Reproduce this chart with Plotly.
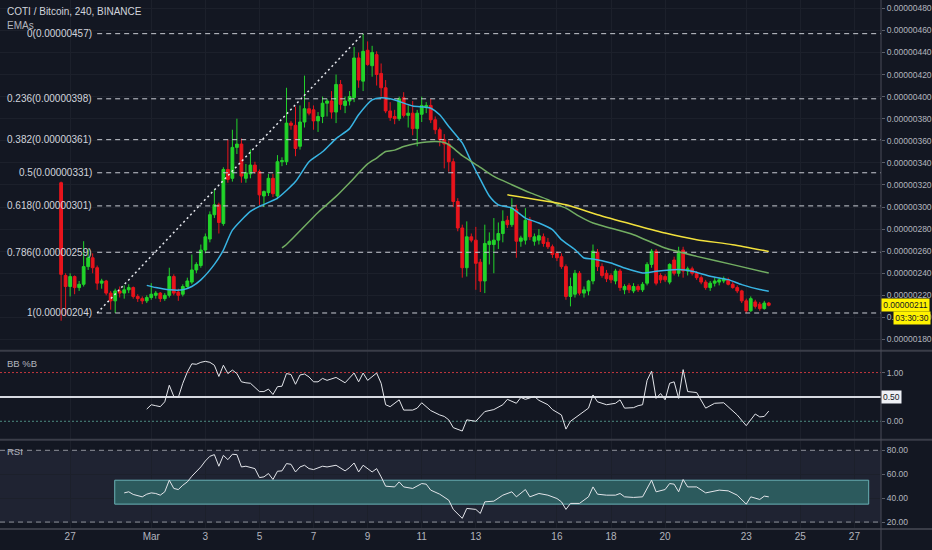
import plotly.graph_objects as go
from datetime import datetime, timedelta

# ---------------- data (prices in satoshi) ----------------
START = datetime(2020, 2, 26, 16)   # first 4h candle
OPEN = [322,238,228,237,227,230,246,254,245,231,233,222,215,224,222,225,227,219,217,215,
        218,220,222,217,220,237,223,221,228,232,243,247,261,271,293,302,285,334,326,354,
        357,326,330,338,332,310,313,326,310,341,341,376,374,355,377,389,388,378,382,394,
        396,386,411,392,396,399,435,414,442,428,438,421,408,387,382,380,399,383,385,371,
        384,390,392,379,370,361,357,341,305,281,245,273,270,250,233,266,266,270,276,288,
        284,298,269,270,288,269,270,273,268,264,258,255,246,219,221,240,222,224,233,259,
        246,240,238,233,242,225,229,224,228,225,231,248,260,238,237,232,252,240,261,242,
        244,240,236,232,227,231,232,233,234,230,227,224,215,206,214,212,208,213]
HIGH = [323,240,240,238,233,269,262,258,247,235,234,224,226,228,229,230,228,221,219,220,
        231,224,223,222,245,239,226,230,236,257,250,266,276,296,316,304,336,361,370,380,
        362,339,352,341,334,315,330,330,347,345,408,378,391,392,419,395,392,386,400,398,
        405,420,415,400,405,445,440,457,450,446,441,430,415,395,388,400,404,392,396,388,
        400,395,398,382,372,366,360,344,308,284,287,276,282,253,284,277,290,286,297,292,
        308,302,274,299,291,276,280,276,272,266,260,258,248,236,243,242,228,234,266,262,
        249,243,240,244,244,230,231,231,230,232,250,262,262,240,239,249,255,264,264,246,
        246,242,238,234,233,236,236,237,236,232,229,225,217,219,216,214,215,214]
LOW = [197,201,219,221,224,228,243,240,225,226,220,207,204,218,217,222,217,214,212,213,
       216,217,214,215,218,220,215,219,226,230,240,245,258,268,290,276,283,322,323,348,
       322,322,326,330,302,300,310,309,307,337,338,370,346,352,372,383,370,368,376,382,
       380,376,388,385,392,395,408,405,428,418,410,400,385,378,375,378,381,372,365,355,
       377,385,376,366,355,335,332,300,278,236,237,268,225,223,222,248,240,262,268,281,
       282,254,264,266,270,265,266,264,262,254,251,244,216,210,218,220,218,220,230,242,
       236,232,231,230,224,221,222,222,223,223,229,245,229,231,232,230,238,237,236,238,
       238,234,230,225,224,228,229,231,229,226,222,213,204,205,208,206,207,210]
CLOSE = [239,228,237,227,230,246,254,245,231,233,222,215,224,222,225,227,219,217,215,218,
         221,222,217,220,237,222,220,228,233,243,248,261,273,293,302,286,334,325,354,357,
         328,331,338,332,311,314,326,312,341,342,376,374,353,377,389,385,378,382,394,396,
         386,411,393,396,400,435,415,441,429,440,420,408,387,381,380,398,383,385,371,385,
         392,392,379,370,361,357,341,305,281,245,273,270,249,233,267,269,270,276,287,284,
         299,269,272,288,273,273,274,267,264,257,254,246,219,228,240,222,225,233,260,246,
         238,235,234,242,227,228,225,228,225,230,248,260,231,234,234,248,240,260,242,244,
         240,236,232,227,231,233,234,235,230,227,224,215,206,217,210,208,213,211]

EMA_FAST_I = [19,21,24,27,29,31,34,36,38,42,44,48,52,55,58,61,64,66,69,71,73,75,78,82,84,86,
              89,91,93,95,97,100,103,106,109,111,114,116,118,122,125,129,132,137,140,144,148,
              151,155,157]
EMA_FAST_V = [229,227,225,225,228,234,248,261,279,296,300.6,308,323,341,350,362,371,383.5,397,
              399,398,395.6,391.5,389.5,383.5,373,358,341,325,310,302,299,290,285.5,279.5,
              270.4,261.4,253.8,253,249.3,244.8,240.3,241.8,243.3,241.8,237.3,234.2,229.7,
              225.2,223.7]
EMA_MID_I = [49,50,57,61,64,68,70,72,74,76,79,83,85,86,87,89,93,96,100,104,108,111,112,115,118,
             127,134,141,149,157]
EMA_MID_V = [263,266,295,309.6,322,339,344.3,350.3,351.5,354.8,357.8,359.4,358.4,356.4,353.3,
             346.5,336,327.7,320.2,313,306.6,300.6,299,291.5,285.5,274.9,262.8,255.3,247.8,240.2]
EMA_SLOW_I = [99,112,119,127,134,141,149,157]
EMA_SLOW_V = [311,302,293,284,276.4,270.4,265.9,259.8]

BB_I = [19,20,21,22,23,24,25,26,27,28,29,30,31,32,33,34,35,36,37,38,39,40,41,42,44,45,46,47,48,
        49,50,51,52,53,54,55,56,57,58,59,61,63,65,66,67,68,70,71,72,73,75,76,78,79,80,82,84,85,
        86,87,89,90,92,94,96,98,99,101,102,103,105,106,108,109,111,112,113,115,117,118,119,121,
        123,124,125,127,128,129,130,131,132,133,134,135,136,137,138,139,141,143,145,147,149,150,
        152,154,155,156,157]
BB_V = [0.25,0.34,0.32,0.30,0.40,0.74,0.51,0.49,0.78,1.01,1.18,1.17,1.21,1.23,1.21,1.15,0.92,
        1.15,0.98,1.05,0.98,0.81,0.79,0.78,0.61,0.61,0.66,0.55,0.71,0.72,0.98,0.96,0.76,0.95,
        0.97,0.91,0.81,0.81,0.88,0.84,0.90,0.79,0.99,0.81,0.99,0.84,0.99,0.78,0.34,0.30,0.44,
        0.23,0.23,0.27,0.38,0.22,0.13,0.10,0.03,-0.13,-0.20,0.03,0.00,0.20,0.24,0.34,0.45,0.37,
        0.49,0.45,0.51,0.43,0.34,0.24,0.13,-0.16,0.00,0.13,0.27,0.54,0.40,0.34,0.37,0.44,0.27,
        0.28,0.32,0.34,0.84,1.03,0.47,0.57,0.44,0.78,0.81,0.47,1.06,0.61,0.59,0.27,0.37,0.38,
        0.20,0.13,-0.09,0.15,0.09,0.10,0.21]

RSI_I = [14,15,16,18,19,20,21,22,23,24,25,26,27,28,29,30,31,32,33,34,35,36,37,38,39,40,41,43,44,
         45,46,47,48,49,50,51,52,53,54,55,56,58,59,61,63,64,65,66,67,69,70,71,72,74,75,76,78,80,
         81,82,84,86,87,89,90,92,93,94,96,98,100,101,103,104,106,108,110,111,112,113,115,117,118,
         119,121,123,124,125,127,129,131,132,134,135,136,137,138,139,141,143,146,148,150,152,153,
         155,156,157]
RSI_V = [44.4,45.3,43.1,41.1,43.3,44.4,43.9,42.5,45.3,55.0,48.1,47.2,50.8,53.6,58.3,61.9,66.1,
         71.1,75.0,76.4,66.7,75.8,72.2,76.7,76.4,66.1,66.7,64.7,57.2,57.8,60.6,55.6,62.5,62.8,
         68.9,68.3,61.9,66.1,67.5,64.7,63.9,66.7,66.1,67.5,62.8,65.6,69.4,61.9,67.5,61.9,64.7,
         57.8,50.0,49.4,53.6,49.4,48.1,52.2,51.7,46.7,43.3,38.3,30.6,23.1,31.4,30.6,27.2,36.9,
         37.5,42.5,45.3,41.1,47.2,41.1,43.9,42.5,39.7,36.9,30.6,35.6,35.6,41.1,49.4,43.3,42.5,
         42.5,43.9,41.1,40.6,41.1,55.0,45.3,47.2,52.2,51.7,45.3,55.6,49.4,49.4,44.4,46.7,46.1,
         42.5,35.0,41.1,38.9,41.7,41.1]

FIB_RATIOS = ["0", "0.236", "0.382", "0.5", "0.618", "0.786", "1"]
FIB_PRICES = [457, 398, 361, 331, 301, 259, 204]
FIB_START_I, FIB_END_I = 8, 67

PRICE_TICKS = list(range(180, 481, 20))
DATE_TICKS = ["2020-02-27", "2020-03-01", "2020-03-03", "2020-03-05", "2020-03-07", "2020-03-09",
              "2020-03-11", "2020-03-13", "2020-03-16", "2020-03-18", "2020-03-20", "2020-03-23",
              "2020-03-25", "2020-03-27"]
DATE_LABELS = ["27", "Mar", "3", "5", "7", "9", "11", "13", "16", "18", "20", "23", "25", "27"]
LAST_PRICE = 211

# ---------------- helpers ----------------
def t(i):
    return START + timedelta(hours=4 * i)

times = [t(i) for i in range(len(CLOSE))]
X_RANGE = ["2020-02-24 09:46", "2020-03-27 23:35"]

BG = "#131722"
GRID = "#1c202b"
TXT = "#b2b5be"
FONT = "Liberation Sans Narrow, Liberation Sans, Arial, sans-serif"
GREEN = "#22d32a"
RED = "#e8141c"

fig = go.Figure()

# fib dashed lines (drawing)
for p in FIB_PRICES:
    fig.add_trace(go.Scatter(x=[t(FIB_START_I), X_RANGE[1]], y=[p, p], mode="lines",
                             line=dict(color="#c9ccd4", width=1, dash="5px,4px"),
                             hoverinfo="skip", showlegend=False, xaxis="x", yaxis="y"))
# fib trend line (dotted)
fig.add_trace(go.Scatter(x=[t(FIB_START_I), t(FIB_END_I)], y=[FIB_PRICES[-1], FIB_PRICES[0]],
                         mode="lines", line=dict(color="#e6e8ee", width=1.5, dash="2px,3px"),
                         hoverinfo="skip", showlegend=False, xaxis="x", yaxis="y"))

fig.add_trace(go.Candlestick(
    x=times, open=OPEN, high=HIGH, low=LOW, close=CLOSE,
    increasing=dict(line=dict(color=GREEN, width=1), fillcolor=GREEN),
    decreasing=dict(line=dict(color=RED, width=1), fillcolor=RED),
    whiskerwidth=0, showlegend=False, xaxis="x", yaxis="y", hoverinfo="skip"))

for idx, vals, col in [(EMA_FAST_I, EMA_FAST_V, "#38b4e3"),
                       (EMA_MID_I, EMA_MID_V, "#72ad62"),
                       (EMA_SLOW_I, EMA_SLOW_V, "#f2e13c")]:
    fig.add_trace(go.Scatter(x=[t(i) for i in idx], y=vals, mode="lines",
                             line=dict(color=col, width=1.5, shape="spline", smoothing=0.6),
                             hoverinfo="skip", showlegend=False, xaxis="x", yaxis="y"))

# BB %B panel
fig.add_trace(go.Scatter(x=[X_RANGE[0], X_RANGE[1]], y=[1, 1], mode="lines",
                         line=dict(color="#c4373d", width=1, dash="2px,2px"),
                         hoverinfo="skip", showlegend=False, xaxis="x", yaxis="y2"))
fig.add_trace(go.Scatter(x=[X_RANGE[0], X_RANGE[1]], y=[0, 0], mode="lines",
                         line=dict(color="#4d8a80", width=1, dash="2px,2px"),
                         hoverinfo="skip", showlegend=False, xaxis="x", yaxis="y2"))
fig.add_trace(go.Scatter(x=[t(-16), X_RANGE[1]], y=[0.5, 0.5], mode="lines",
                         line=dict(color="#d6d9e0", width=2),
                         hoverinfo="skip", showlegend=False, xaxis="x", yaxis="y2"))
fig.add_trace(go.Scatter(x=[t(i) for i in BB_I], y=BB_V, mode="lines",
                         line=dict(color="#e3e5ea", width=1),
                         hoverinfo="skip", showlegend=False, xaxis="x", yaxis="y2"))

# RSI panel
for lvl in (80, 20):
    fig.add_trace(go.Scatter(x=[X_RANGE[0], X_RANGE[1]], y=[lvl, lvl], mode="lines",
                             line=dict(color="#8f929b", width=1, dash="5px,4px"),
                             hoverinfo="skip", showlegend=False, xaxis="x", yaxis="y3"))
fig.add_trace(go.Scatter(x=[t(i) for i in RSI_I], y=RSI_V, mode="lines",
                         line=dict(color="#e3e5ea", width=1),
                         hoverinfo="skip", showlegend=False, xaxis="x", yaxis="y3"))

shapes = [
    # RSI band
    dict(type="rect", xref="paper", x0=0, x1=1, yref="y3", y0=20, y1=80,
         fillcolor="rgba(120,123,170,0.12)", line=dict(width=0), layer="between"),
    # teal box
    dict(type="rect", xref="x", x0="2020-02-28 15:35", x1="2020-03-27 12:40", yref="y3", y0=35, y1=55,
         fillcolor="#2c5a5d", line=dict(color="#69b2b6", width=1), layer="between"),
    # panel separators
    dict(type="line", xref="paper", yref="paper", x0=0, x1=1.06, y0=0.337, y1=0.337,
         line=dict(color="#3a3d48", width=2)),
    dict(type="line", xref="paper", yref="paper", x0=0, x1=1.06, y0=0.1685, y1=0.1685,
         line=dict(color="#3a3d48", width=2)),
    dict(type="line", xref="paper", yref="paper", x0=0, x1=1.06, y0=0.0, y1=0.0,
         line=dict(color="#3a3d48", width=2)),
    # right price-axis line
    dict(type="line", xref="paper", yref="paper", x0=1, x1=1, y0=-0.05, y1=1,
         line=dict(color="#4a4d58", width=1)),
]

annotations = [
    dict(text="COTI / Bitcoin, 240, BINANCE", xref="paper", yref="paper", x=0.006, y=0.978,
         xanchor="left", yanchor="middle", showarrow=False,
         font=dict(family=FONT, size=10, color="#d1d4dc")),
    dict(text="EMAs", xref="paper", yref="paper", x=0.006, y=0.952,
         xanchor="left", yanchor="middle", showarrow=False,
         font=dict(family=FONT, size=10, color=TXT)),
    dict(text="BB %B", xref="paper", yref="paper", x=0.006, y=0.312,
         xanchor="left", yanchor="middle", showarrow=False,
         font=dict(family=FONT, size=9.5, color=TXT)),
    dict(text="RSI", xref="paper", yref="paper", x=0.006, y=0.146,
         xanchor="left", yanchor="middle", showarrow=False,
         font=dict(family=FONT, size=9.5, color=TXT)),
    dict(text="0.00000211", xref="paper", yref="y", x=1.0, y=LAST_PRICE, xanchor="left",
         yanchor="middle", showarrow=False, bgcolor="#fff200", borderpad=1, width=45,
         font=dict(family=FONT, size=8.5, color="#131722")),
    dict(text="03:30:30", xref="paper", yref="y", x=1.0, xshift=12, y=199.3, xanchor="left",
         yanchor="middle", showarrow=False, bgcolor="#fff200", borderpad=1, width=34,
         font=dict(family=FONT, size=8.5, color="#131722")),
    dict(text="0.50", xref="paper", yref="y2", x=1.0, y=0.5, xanchor="left",
         yanchor="middle", showarrow=False, bgcolor="#eef0f5", borderpad=1,
         font=dict(family=FONT, size=8.5, color="#131722")),
]
for r, p in zip(FIB_RATIOS, FIB_PRICES):
    annotations.append(dict(text=f"{r}(0.{p:08d})", xref="x", yref="y", x=t(FIB_START_I), y=p,
                            xanchor="right", yanchor="middle", xshift=-3, showarrow=False,
                            font=dict(family=FONT, size=10, color="#d1d4dc")))

axis_font = dict(family=FONT, size=8.5, color=TXT)
fig.update_layout(
    width=932, height=550,
    margin=dict(l=0, r=49, t=0, b=21),
    paper_bgcolor=BG, plot_bgcolor=BG,
    showlegend=False, boxgap=0.12,
    shapes=shapes, annotations=annotations,
    xaxis=dict(anchor="y3", type="date", range=X_RANGE, tickvals=DATE_TICKS, ticktext=DATE_LABELS,
               showgrid=True, gridcolor=GRID, gridwidth=1, zeroline=False, showline=False,
               ticks="", tickfont=dict(family=FONT, size=10, color=TXT),
               rangeslider=dict(visible=False), fixedrange=True),
    yaxis=dict(domain=[0.338, 1], range=[170.3, 487.5], side="right", anchor="x",
               tickvals=PRICE_TICKS, ticktext=[f"0.{v:08d}" for v in PRICE_TICKS],
               showgrid=True, gridcolor=GRID, zeroline=False, ticks="outside", ticklen=3,
               tickcolor="#5d606b", tickfont=axis_font, fixedrange=True),
    yaxis2=dict(domain=[0.1695, 0.336], range=[-0.37, 1.437], side="right", anchor="x",
                tickvals=[0, 1], ticktext=["0.00", "1.00"], showgrid=False, zeroline=False,
                ticks="outside", ticklen=3, tickcolor="#5d606b", tickfont=axis_font, fixedrange=True),
    yaxis3=dict(domain=[0.0, 0.1675], range=[14.2, 88.3], side="right", anchor="x",
                tickvals=[20, 40, 60, 80], ticktext=["20.00", "40.00", "60.00", "80.00"],
                showgrid=True, gridcolor=GRID, zeroline=False, ticks="outside", ticklen=3,
                tickcolor="#5d606b", tickfont=axis_font, fixedrange=True),
)

fig.write_html("out.html", config={"displayModeBar": False},
               post_script="document.body.style.margin='0';"
                           "document.body.style.background='#131722';")
